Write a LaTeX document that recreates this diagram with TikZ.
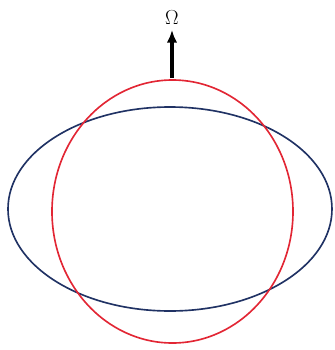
\documentclass[tikz,border=0pt]{standalone}
\usetikzlibrary{arrows.meta}

\definecolor{orbitblue}{RGB}{32,50,100}
\definecolor{orbitred}{RGB}{226,38,52}

\begin{document}
\begin{tikzpicture}[
    x=0.03cm, y=-0.03cm,
    orbit/.style={line width=1.4pt},
    >={Latex[length=11pt, width=9pt]}
  ]
  \useasboundingbox (0,0) rectangle (335,350);

  % the two ellipses
  \draw[orbit, orbitblue] (170,209) ellipse [x radius=162, y radius=102];
  \draw[orbit, orbitred] (172.5,211.5) ellipse [x radius=120.5, y radius=131.5];

  % rotation axis
  \coordinate (top) at (172,78);
  \node[font=\fontsize{16}{18}\selectfont, inner sep=1pt] (omega) at (172,18) {$\Omega$};
  \draw[->, line width=2.6pt, shorten >=3pt] (top) -- (omega.south);

\end{tikzpicture}
\end{document}
